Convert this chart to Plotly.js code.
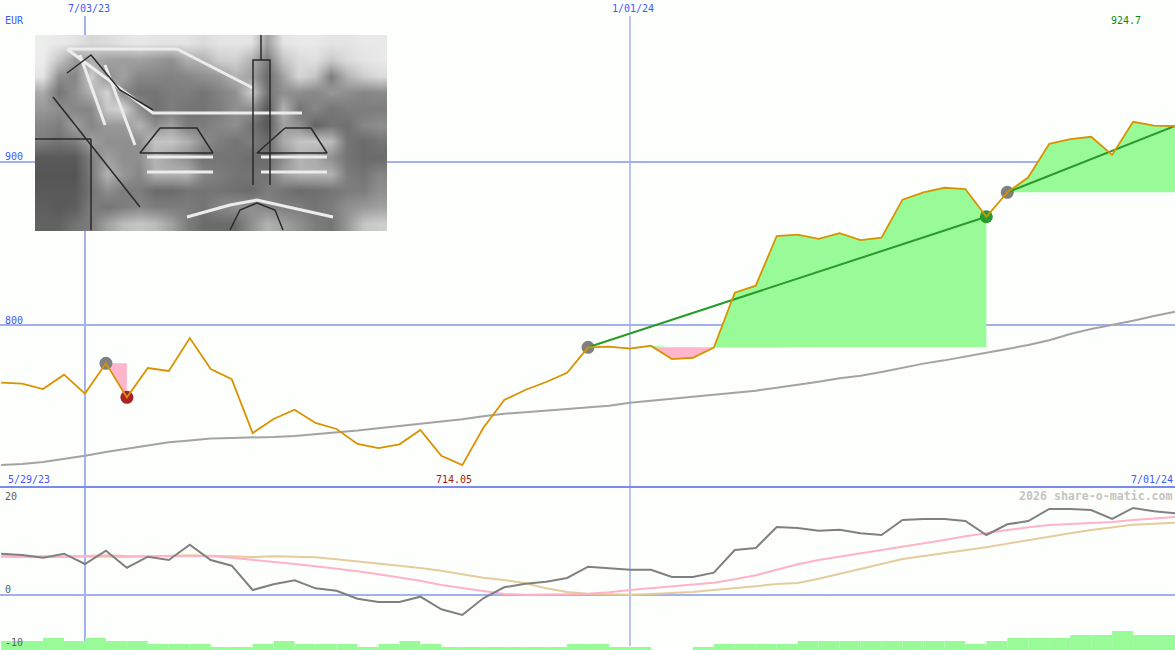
<!DOCTYPE html>
<html>
<head>
<meta charset="utf-8">
<script src="https://cdn.plot.ly/plotly-3.0.1.min.js"></script>
<style>html,body{margin:0;padding:0;background:#fdfffd}#chart{width:1175px;height:650px}</style>
</head>
<body>
<div id="chart"></div>
<script>
const dates = ['2023-06-05','2023-06-12','2023-06-19','2023-06-26','2023-07-03','2023-07-10','2023-07-17','2023-07-24','2023-07-31','2023-08-07',
  '2023-08-14','2023-08-21','2023-08-28','2023-09-04','2023-09-11','2023-09-18','2023-09-25','2023-10-02','2023-10-09','2023-10-16',
  '2023-10-23','2023-10-30','2023-11-06','2023-11-13','2023-11-20','2023-11-27','2023-12-04','2023-12-11','2023-12-18','2023-12-25',
  '2024-01-01','2024-01-08','2024-01-15','2024-01-22','2024-01-29','2024-02-05','2024-02-12','2024-02-19','2024-02-26','2024-03-04',
  '2024-03-11','2024-03-18','2024-03-25','2024-04-01','2024-04-08','2024-04-15','2024-04-22','2024-04-29','2024-05-06','2024-05-13',
  '2024-05-20','2024-05-27','2024-06-03','2024-06-10','2024-06-17','2024-06-24','2024-07-01'];

const price = [764.6,764,760.7,769.5,757.9,776.5,755.6,773.6,771.8,792,
  773,766.7,733.7,742.3,748,739.9,736.2,727,724.5,726.8,
  735.6,719.8,714.05,736.8,754,760.1,765,770.7,786.3,786.7,
  785.5,787.3,779.1,779.9,786.2,819.8,824.1,854.6,855.4,852.9,
  856.4,852.1,853.6,876.9,881.4,884.2,883.4,866.4,881.4,890.6,
  911.2,914.1,915.5,904.3,924.7,922.3,922.1];

const average = [714.1,714.7,716,717.8,719.8,722.1,724.1,726,728,729.2,
  730.3,730.7,730.9,731.3,731.9,732.9,734,735.2,736.6,738,
  739.7,741.1,742.1,744,745.6,746.4,747.4,748.3,749.1,750.5,
  752.3,753.6,754.8,756,757.5,758.5,759.7,761.5,763.2,765.2,
  767.3,768.9,771.2,773.8,776.3,778.3,780.8,783,785.3,787.7,
  790.6,794.5,797.5,800,802.6,805.5,808.2];

const momentum = [7.79,7.55,7.04,7.79,5.85,8.36,5.15,7.23,6.6,9.49,
  6.6,5.53,0.94,2.02,2.77,1.26,0.81,-0.7,-1.32,-1.32,
  -0.32,-2.7,-3.77,-0.62,1.45,2.13,2.51,3.21,5.34,5.09,
  4.77,4.77,3.4,3.4,4.21,8.49,8.87,12.83,12.64,12.13,
  12.32,11.64,11.32,14.15,14.34,14.34,13.96,11.32,13.34,13.96,
  16.23,16.23,16.04,14.34,16.42,15.79,15.42];

const signalPink = [7.23,7.17,7.11,7.23,7.3,7.48,7.36,7.36,7.3,7.36,
  7.3,7.04,6.67,6.29,5.85,5.41,4.97,4.47,3.9,3.27,
  2.7,1.89,1.32,0.63,0.19,0.06,0.06,0.13,0.25,0.5,
  0.94,1.26,1.64,2.01,2.33,2.96,3.71,4.78,5.79,6.6,
  7.23,7.74,8.36,8.99,9.69,10.38,11.07,11.7,12.26,12.77,
  13.21,13.4,13.58,13.77,14.15,14.4,14.72];

const signalTan = [7.36,7.36,7.36,7.36,7.3,7.23,7.17,7.3,7.36,7.48,
  7.42,7.36,7.17,7.3,7.23,7.11,6.73,6.35,5.97,5.53,
  5.09,4.59,3.9,3.27,2.83,2.2,1.26,0.57,0.25,0.13,
  0.06,0.19,0.38,0.57,0.94,1.26,1.64,2.08,2.26,3.08,
  3.96,4.91,5.85,6.79,7.36,7.86,8.36,8.99,9.69,10.38,
  11.07,11.64,12.26,12.77,13.27,13.46,13.65];

const volume = [3,3,4,3,4,3,3,2,2,2,
  1,1,2,3,2,2,2,1,2,3,
  2,1,1,1,1,1,1,2,2,1,
  1,0,0,1,2,2,2,2,3,3,
  3,3,3,3,3,3,2,3,4,4,
  4,5,5,6.33,5,5,5];

// trades as [first, last] week index into dates
const lossTrade = [5, 6];
const winTrades = [[28, 47], [48, 56]];

// engraving, coarse grey levels
const engraving = [
  [235,230,225,210,215,225,230,225,225,225,215,225,225,225,150,225,230,230,225,225,230,230],
  [235,190,140,165,150,145,150,140,130,165,170,200,205,170,110,190,215,220,195,215,225,230],
  [225,130,120,200,130,150,120,120,115,120,130,140,170,150,90,150,210,190,110,170,200,215],
  [160,100,130,170,205,120,100,100,110,110,100,115,130,200,100,130,130,120,140,130,120,125],
  [140,130,120,120,195,210,130,95,110,100,100,110,130,130,70,170,100,120,100,110,110,110],
  [120,110,150,120,140,140,170,130,150,110,110,120,130,100,70,150,130,80,100,95,120,130],
  [110,100,110,150,130,130,130,190,190,170,130,110,100,110,90,160,190,190,180,100,90,100],
  [70,70,70,110,150,130,130,170,150,130,100,100,100,90,90,130,170,160,130,100,90,90],
  [65,65,65,105,170,140,120,170,170,170,120,110,100,100,100,150,170,170,170,110,100,120],
  [70,70,70,100,130,110,110,90,90,100,100,100,95,90,110,100,90,95,100,110,110,130],
  [75,70,75,110,100,110,120,110,110,110,100,120,130,130,120,110,110,100,110,130,140,150],
  [80,80,100,110,150,180,190,180,150,110,90,90,90,130,170,150,130,110,100,140,190,200]
];
// pale roof ridges and bands of the engraving
const paleX = [32,118,267,null,142,218,null,32,142,null,112,178,null,112,178,null,226,292,null,226,292,null,152,195,222,298,null,45,70,null,70,100];
const paleY = [14,78,78,null,14,53,null,14,14,null,122,122,null,137,137,null,122,122,null,137,137,null,182,170,165,182,null,20,90,null,30,110];
// dark tower, roofs, arch and wing edges
const inkX = [218,218,235,235,null,226,226,null,125,162,178,105,125,null,250,276,292,222,250,null,195,205,222,240,248,null,18,105,null,56,56,null,0,56,null,32,56,85,118];
const inkY = [150,25,25,150,null,25,0,null,93,93,118,118,93,null,93,93,118,118,93,null,195,175,168,175,195,null,62,172,null,104,195,null,104,104,null,38,20,55,75];

const ORANGE = '#da9200', GREEN_FILL = '#98fb98', PINK_FILL = '#ffb6cb', GREEN = '#2a9a2a';
const GRID = '#a3b1f0', SEP = '#7b8bec', BLUE = '#3f58ff';

function area(from, to, base, pick, color) {
  const x = dates.slice(from, to + 1);
  const top = price.slice(from, to + 1).map(v => pick(v, base));
  return [
    { x, y: x.map(() => base), mode: 'lines', line: { width: 0 }, xaxis: 'x', yaxis: 'y' },
    { x, y: top, mode: 'lines', line: { width: 0 }, fill: 'tonexty', fillcolor: color, xaxis: 'x', yaxis: 'y' }
  ];
}

function dot(i, color) {
  return { x: [dates[i]], y: [price[i]], mode: 'markers', marker: { size: 13, color }, xaxis: 'x', yaxis: 'y' };
}

function tradeLine(t) {
  return { x: [dates[t[0]], dates[t[1]]], y: [price[t[0]], price[t[1]]], mode: 'lines', line: { color: GREEN, width: 2 }, xaxis: 'x', yaxis: 'y' };
}

function curve(y, color, yaxis, width) {
  return { x: dates, y, mode: 'lines', line: { color, width: width || 2 }, xaxis: yaxis === 'y' ? 'x' : 'x2', yaxis };
}

const traces = [
  { z: engraving, type: 'heatmap', xaxis: 'x3', yaxis: 'y4', x0: 8, dx: 16, y0: 8.17, dy: 16.33, zsmooth: 'best', zmin: -30, zmax: 255, showscale: false,
    colorscale: [[0, '#000000'], [1, '#ffffff']] },
  { x: paleX, y: paleY, mode: 'lines', line: { color: '#ececec', width: 3 }, xaxis: 'x3', yaxis: 'y4' },
  { x: inkX, y: inkY, mode: 'lines', line: { color: '#2a2a2a', width: 1.5 }, xaxis: 'x3', yaxis: 'y4' },
  { x: dates, y: volume, type: 'bar', marker: { color: GREEN_FILL, line: { width: 0 } }, width: 7 * 864e5, offset: 0, xaxis: 'x2', yaxis: 'y3' },
  ...area(lossTrade[0], lossTrade[1], price[lossTrade[0]], Math.min, PINK_FILL),
  ...area(winTrades[0][0], winTrades[0][1], price[winTrades[0][0]], Math.min, PINK_FILL),
  ...area(winTrades[0][0], winTrades[0][1], price[winTrades[0][0]], Math.max, GREEN_FILL),
  ...area(winTrades[1][0], winTrades[1][1], price[winTrades[1][0]], Math.max, GREEN_FILL),
  curve(average, '#a3a3a3', 'y'),
  dot(lossTrade[0], '#808080'),
  dot(lossTrade[1], '#aa2222'),
  dot(winTrades[0][0], '#808080'),
  dot(winTrades[0][1], GREEN),
  dot(winTrades[1][0], '#808080'),
  tradeLine(winTrades[0]),
  tradeLine(winTrades[1]),
  curve(price, ORANGE, 'y', 1.8),
  curve(signalTan, '#e4cc9c', 'y2'),
  curve(signalPink, '#ffb2c8', 'y2'),
  curve(momentum, '#808080', 'y2')
];

function label(text, px, py, color, anchor, extra) {
  return {
    text, xref: 'paper', yref: 'paper', x: px / 1175, y: 1 - py / 650,
    xanchor: anchor || 'left', yanchor: 'middle', showarrow: false, borderpad: 0,
    font: Object.assign({ family: 'DejaVu Sans Mono', size: 10, color }, extra)
  };
}

function vline(date, width) {
  return { type: 'line', xref: 'x', yref: 'paper', x0: date, x1: date, y0: 0.006, y1: 1 - 16 / 650, layer: 'below', line: { color: GRID, width } };
}

const hidden = { showticklabels: false, ticks: '', zeroline: false, showline: false, showgrid: false };
const xRange = ['2023-06-04 15:00', '2024-07-01'];

const layout = {
  width: 1175, height: 650,
  margin: { l: 0, r: 0, t: 0, b: 0 },
  paper_bgcolor: '#fdfffd', plot_bgcolor: 'rgba(0,0,0,0)',
  showlegend: false, hovermode: false, barmode: 'overlay',
  xaxis: Object.assign({ type: 'date', range: xRange, domain: [0, 1], anchor: 'y' }, hidden),
  xaxis2: Object.assign({ type: 'date', range: xRange, domain: [0, 1], anchor: 'y2' }, hidden),
  xaxis3: Object.assign({ range: [0, 352], domain: [35 / 1175, 387 / 1175], anchor: 'y4' }, hidden),
  yaxis: Object.assign({}, hidden, { range: [700.6, 999.4], domain: [163 / 650, 1], tickvals: [800, 900], showgrid: true, gridcolor: GRID, gridwidth: 2 }),
  yaxis2: Object.assign({}, hidden, { range: [-10.38, 20.19], domain: [0, 162 / 650], tickvals: [0], showgrid: true, gridcolor: GRID, gridwidth: 2 }),
  yaxis3: Object.assign({ range: [0, 54], domain: [0, 162 / 650], anchor: 'x2' }, hidden),
  yaxis4: Object.assign({ range: [196, 0], domain: [419 / 650, 615 / 650], anchor: 'x3' }, hidden),
  shapes: [
    vline('2023-07-03', 2),
    vline('2024-01-01', 1.5),
    { type: 'line', xref: 'paper', yref: 'paper', x0: 0, x1: 1, y0: 163 / 650, y1: 163 / 650, line: { color: SEP, width: 2 }, layer: 'below' }
  ],
  annotations: [
    label('7/03/23', 67, 8, BLUE),
    label('1/01/24', 611, 8, BLUE),
    label('EUR', 4, 21, BLUE),
    label('900', 4, 156, BLUE),
    label('800', 4, 320, BLUE),
    label('924.7', 1110, 21, '#118811'),
    label('5/29/23', 7, 479, BLUE),
    label('714.05', 435, 479, '#a02020'),
    label('7/01/24', 1174, 479, BLUE, 'right'),
    label('20', 4, 496, '#606060'),
    label('0', 4, 589, '#606060'),
    label('-10', 4, 642, '#606060'),
    label('2026 share-o-matic.com', 1174, 496, '#c4c4c4', 'right', { size: 11.6, weight: 700 })
  ]
};

Plotly.newPlot('chart', traces, layout, { displayModeBar: false, staticPlot: true });
</script>
</body>
</html>
